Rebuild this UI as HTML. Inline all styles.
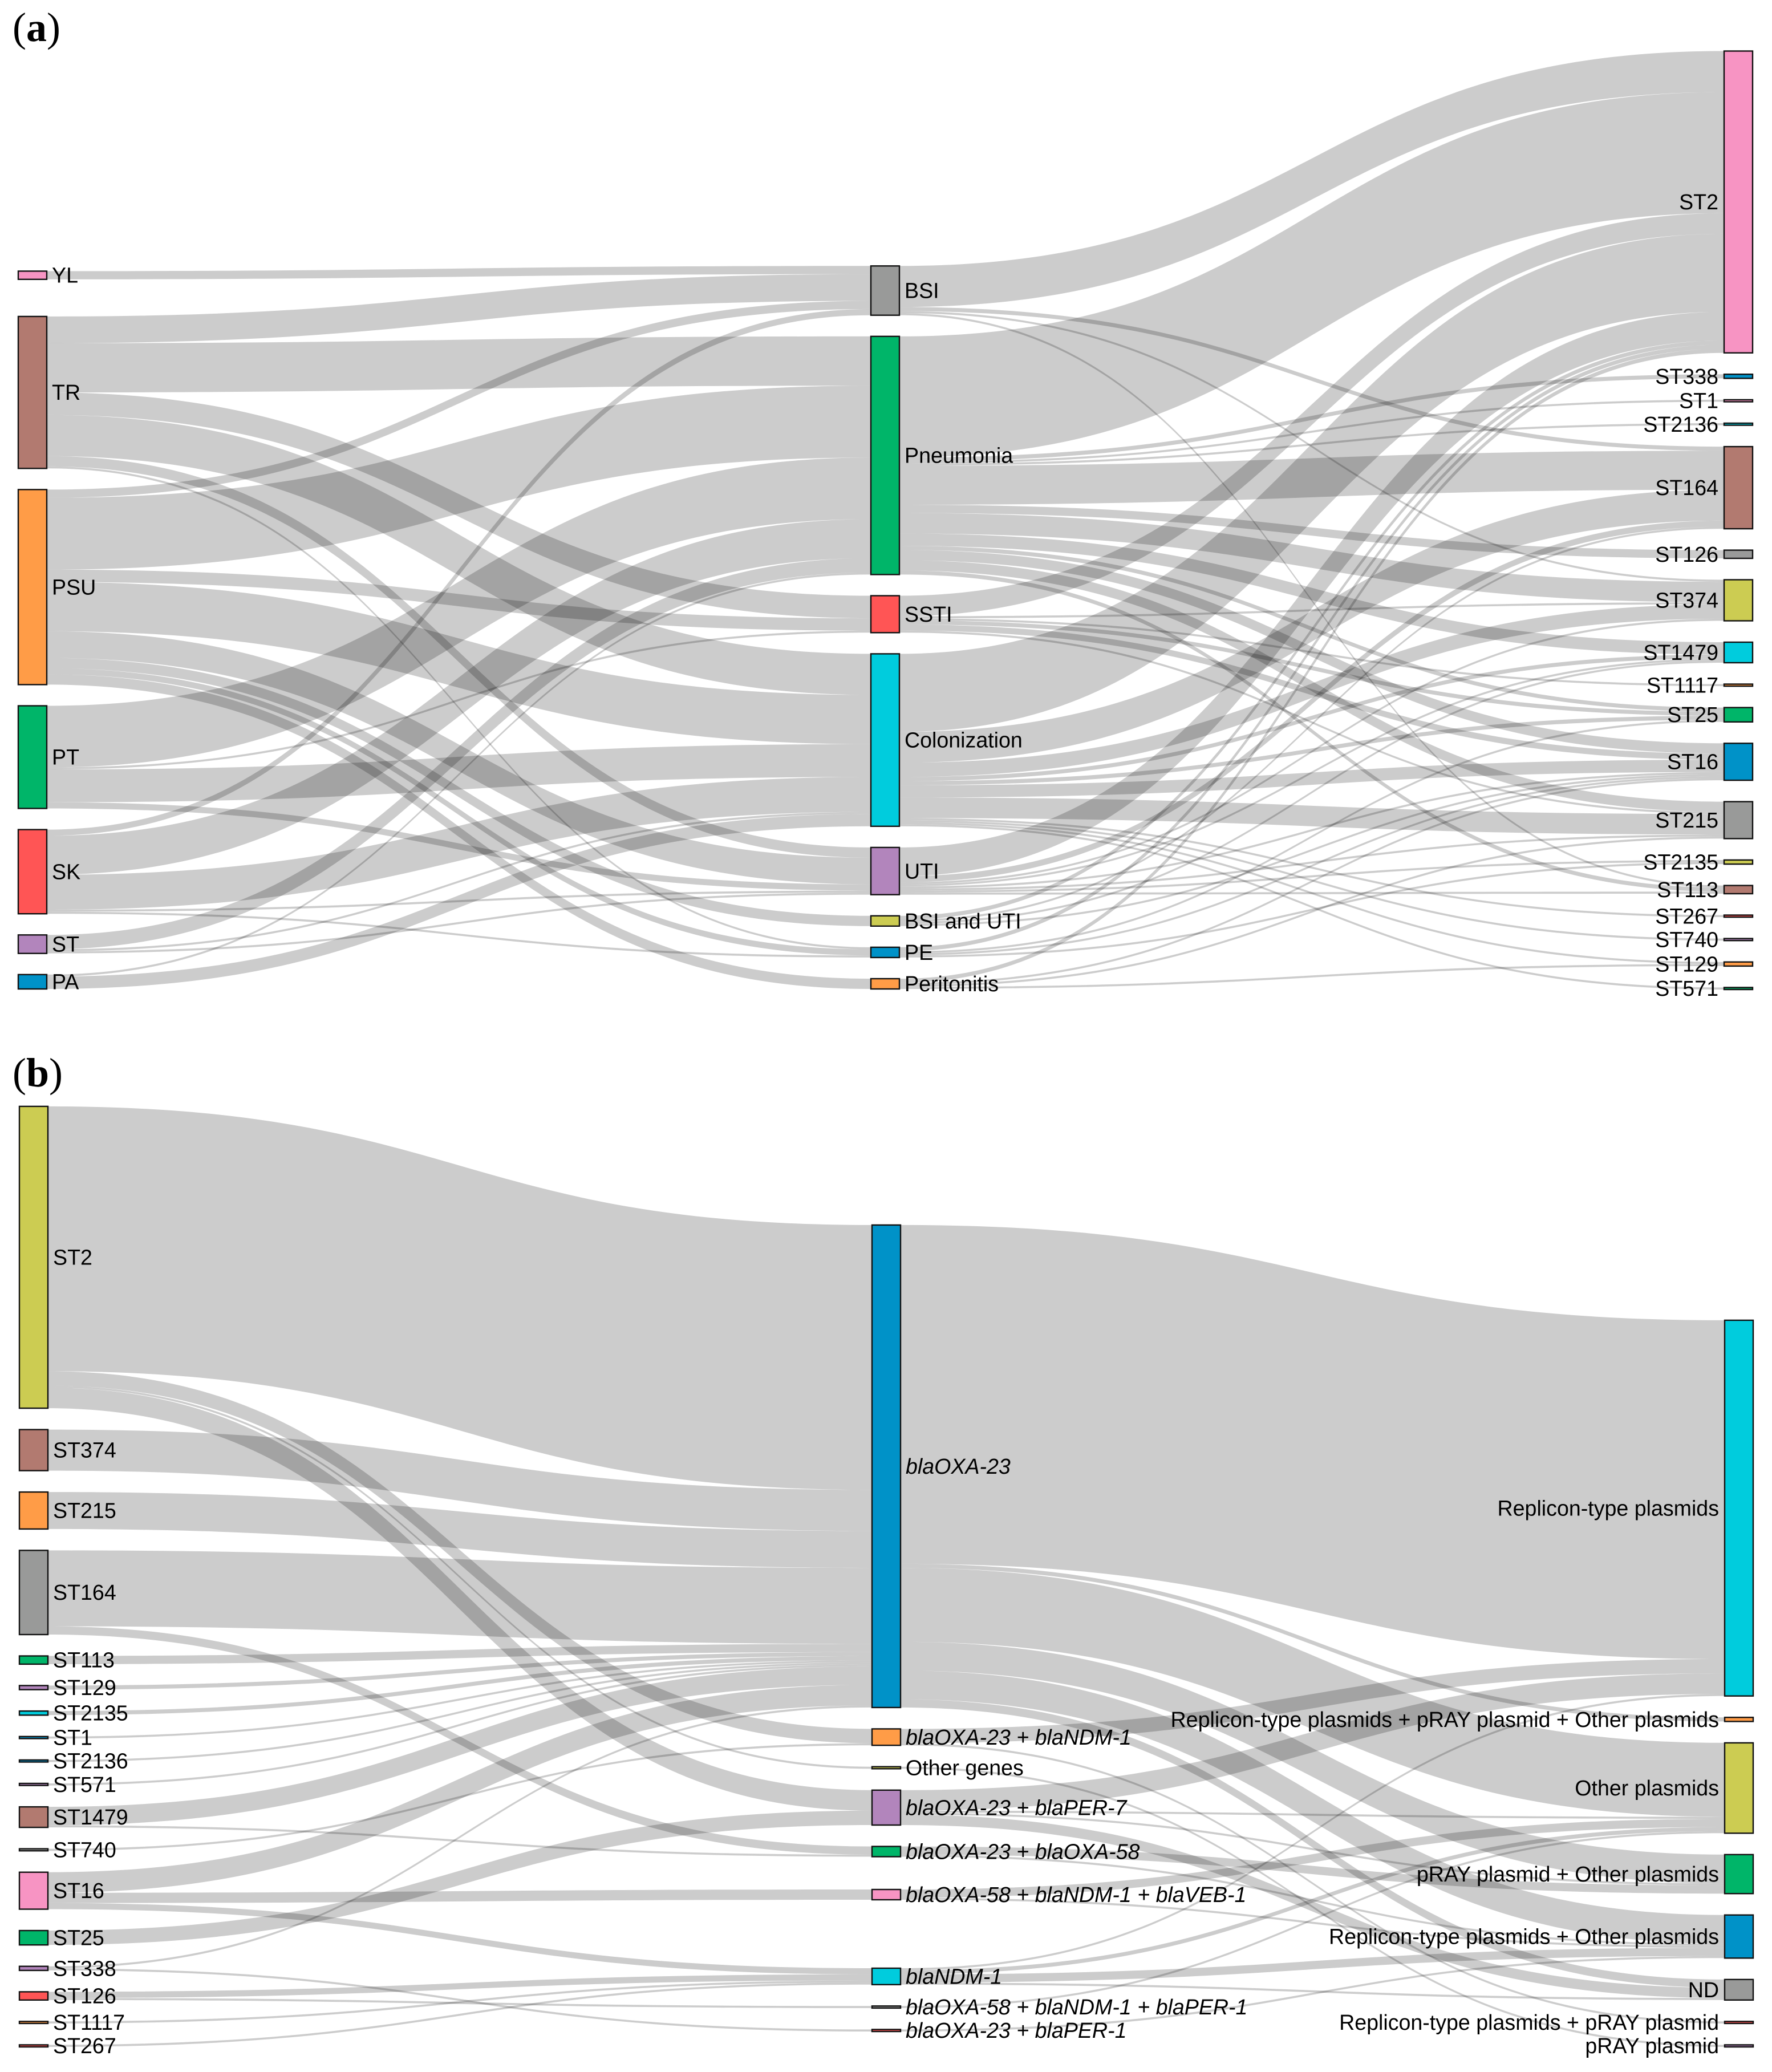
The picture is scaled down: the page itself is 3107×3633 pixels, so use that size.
<!DOCTYPE html>
<html lang="en">
<head>
<meta charset="utf-8">
<title>Sankey diagrams (a) and (b)</title>
<style>
html,body{margin:0;padding:0;background:#fff;}
svg{display:block;}
.lbl{font-family:"Liberation Sans",sans-serif;font-size:37.6px;fill:#000;}
.ttl{font-family:"Liberation Serif",serif;font-size:72px;fill:#000;}
.ttl .b{font-weight:bold;}
</style>
</head>
<body>
<svg id="figure" xmlns="http://www.w3.org/2000/svg" width="3107" height="3633" viewBox="0 0 3107 3633">
  <text class="ttl" x="22" y="72">(<tspan class="b">a</tspan>)</text>
  <text class="ttl" x="22" y="1905">(<tspan class="b">b</tspan>)</text>
</svg>
<script>
// ---------- Panel (a) data: isolate counts ----------
const aSources = ["YL","TR","PSU","PT","SK","ST","PA"];
const aInfections = ["BSI","Pneumonia","SSTI","Colonization","UTI","BSI and UTI","PE","Peritonitis"];
const aClones = ["ST2","ST338","ST1","ST2136","ST164","ST126","ST374","ST1479","ST1117","ST25","ST16","ST215","ST2135","ST113","ST267","ST740","ST129","ST571"];
const aSourceToInfection = [
  ["YL","BSI",4],
  ["TR","BSI",13],["TR","Pneumonia",24],["TR","SSTI",11],["TR","Colonization",20],["TR","UTI",5],["TR","PE",1],
  ["PSU","BSI",4],["PSU","Pneumonia",35],["PSU","SSTI",6],["PSU","Colonization",24],["PSU","UTI",13],["PSU","BSI and UTI",5],["PSU","PE",3],["PSU","Peritonitis",5],
  ["PT","Pneumonia",30],["PT","SSTI",1],["PT","Colonization",16],["PT","UTI",3],
  ["SK","BSI",3],["SK","Pneumonia",19],["SK","Colonization",17],["SK","UTI",1],["SK","PE",1],
  ["ST","Pneumonia",7],["ST","Colonization",1],["ST","UTI",1],
  ["PA","Pneumonia",1],["PA","Colonization",6]
];
const aInfectionToClone = [
  ["BSI","ST2",20],["BSI","ST164",2],["BSI","ST374",1],["BSI","ST113",1],
  ["Pneumonia","ST2",59],["Pneumonia","ST338",2],["Pneumonia","ST1",1],["Pneumonia","ST2136",1],["Pneumonia","ST164",19],["Pneumonia","ST126",4],["Pneumonia","ST374",10],["Pneumonia","ST1479",6],["Pneumonia","ST25",2],["Pneumonia","ST16",5],["Pneumonia","ST215",5],["Pneumonia","ST113",2],
  ["SSTI","ST2",10],["SSTI","ST374",1],["SSTI","ST1117",1],["SSTI","ST25",2],["SSTI","ST16",3],["SSTI","ST215",1],
  ["Colonization","ST2",38],["Colonization","ST164",15],["Colonization","ST374",7],["Colonization","ST1479",2],["Colonization","ST25",2],["Colonization","ST16",6],["Colonization","ST215",10],["Colonization","ST267",1],["Colonization","ST740",1],["Colonization","ST129",1],["Colonization","ST571",1],
  ["UTI","ST2",14],["UTI","ST164",3],["UTI","ST374",1],["UTI","ST1479",1],["UTI","ST16",1],["UTI","ST215",1],["UTI","ST2135",1],["UTI","ST113",1],
  ["BSI and UTI","ST2",2],["BSI and UTI","ST164",1],["BSI and UTI","ST1479",1],["BSI and UTI","ST16",1],
  ["PE","ST2",2],["PE","ST25",1],["PE","ST16",1],["PE","ST2135",1],
  ["Peritonitis","ST2",2],["Peritonitis","ST16",1],["Peritonitis","ST215",1],["Peritonitis","ST129",1]
];

// ---------- Panel (b) data ----------
const bClones = ["ST2","ST374","ST215","ST164","ST113","ST129","ST2135","ST1","ST2136","ST571","ST1479","ST740","ST16","ST25","ST338","ST126","ST1117","ST267"];
const bGenes = ["blaOXA-23","blaOXA-23 + blaNDM-1","Other genes","blaOXA-23 + blaPER-7","blaOXA-23 + blaOXA-58","blaOXA-58 + blaNDM-1 + blaVEB-1","blaNDM-1","blaOXA-58 + blaNDM-1 + blaPER-1","blaOXA-23 + blaPER-1"];
const bPlasmids = ["Replicon-type plasmids","Replicon-type plasmids + pRAY plasmid + Other plasmids","Other plasmids","pRAY plasmid + Other plasmids","Replicon-type plasmids + Other plasmids","ND","Replicon-type plasmids + pRAY plasmid","pRAY plasmid"];
const bCloneToGene = [
  ["ST2","blaOXA-23",129],["ST2","blaOXA-23 + blaNDM-1",7],["ST2","Other genes",1],["ST2","blaOXA-23 + blaPER-7",10],
  ["ST374","blaOXA-23",20],
  ["ST215","blaOXA-23",18],
  ["ST164","blaOXA-23",37],["ST164","blaOXA-23 + blaOXA-58",4],
  ["ST113","blaOXA-23",4],["ST129","blaOXA-23",2],["ST2135","blaOXA-23",2],["ST1","blaOXA-23",1],["ST2136","blaOXA-23",1],["ST571","blaOXA-23",1],
  ["ST1479","blaOXA-23",9],["ST1479","blaOXA-23 + blaOXA-58",1],
  ["ST740","blaOXA-23 + blaNDM-1",1],
  ["ST16","blaOXA-23",10],["ST16","blaOXA-58 + blaNDM-1 + blaVEB-1",5],["ST16","blaNDM-1",3],
  ["ST25","blaOXA-23 + blaPER-7",7],
  ["ST338","blaOXA-23",1],["ST338","blaOXA-23 + blaPER-1",1],
  ["ST126","blaNDM-1",3],["ST126","blaOXA-58 + blaNDM-1 + blaPER-1",1],
  ["ST1117","blaNDM-1",1],
  ["ST267","blaNDM-1",1]
];
const bGeneToPlasmid = [
  ["blaOXA-23","Replicon-type plasmids",165],["blaOXA-23","Replicon-type plasmids + pRAY plasmid + Other plasmids",2],["blaOXA-23","Other plasmids",36],["blaOXA-23","pRAY plasmid + Other plasmids",14],["blaOXA-23","Replicon-type plasmids + Other plasmids",14],["blaOXA-23","ND",4],
  ["blaOXA-23 + blaNDM-1","Replicon-type plasmids",7],["blaOXA-23 + blaNDM-1","Replicon-type plasmids + pRAY plasmid",1],
  ["Other genes","pRAY plasmid",1],
  ["blaOXA-23 + blaPER-7","Replicon-type plasmids",10],["blaOXA-23 + blaPER-7","Other plasmids",1],["blaOXA-23 + blaPER-7","pRAY plasmid + Other plasmids",1],["blaOXA-23 + blaPER-7","ND",5],
  ["blaOXA-23 + blaOXA-58","pRAY plasmid + Other plasmids",4],["blaOXA-23 + blaOXA-58","Replicon-type plasmids + Other plasmids",1],
  ["blaOXA-58 + blaNDM-1 + blaVEB-1","Other plasmids",4],["blaOXA-58 + blaNDM-1 + blaVEB-1","Replicon-type plasmids + Other plasmids",1],
  ["blaNDM-1","Replicon-type plasmids",1],["blaNDM-1","Other plasmids",2],["blaNDM-1","Replicon-type plasmids + Other plasmids",4],["blaNDM-1","ND",1],
  ["blaOXA-58 + blaNDM-1 + blaPER-1","Other plasmids",1],
  ["blaOXA-23 + blaPER-1","Replicon-type plasmids + Other plasmids",1]
];

// ---------- Styling and layout (not data) ----------
const C = {pink:"#f794c3",brown:"#b27a70",orange:"#ff9c47",green:"#00b569",red:"#ff5555",purple:"#b285bc",blue:"#0092c8",gray:"#999a99",olive:"#cccc52",cyan:"#00ccdd"};
const colorsA = {
  left:[C.pink,C.brown,C.orange,C.green,C.red,C.purple,C.blue],
  mid:[C.gray,C.green,C.red,C.cyan,C.purple,C.olive,C.blue,C.orange],
  right:[C.pink,C.blue,C.pink,C.cyan,C.brown,C.gray,C.olive,C.cyan,C.orange,C.green,C.blue,C.gray,C.olive,C.brown,C.red,C.purple,C.orange,C.green]
};
const colorsB = {
  left:[C.olive,C.brown,C.orange,C.gray,C.green,C.purple,C.cyan,C.blue,C.blue,C.purple,C.brown,C.gray,C.pink,C.green,C.purple,C.red,C.orange,C.red],
  mid:[C.blue,C.orange,C.olive,C.purple,C.green,C.pink,C.cyan,C.gray,C.red],
  right:[C.cyan,C.orange,C.olive,C.green,C.blue,C.gray,C.red,C.purple]
};
const PX_PER_ISOLATE = 3.6;
const NODE_W = 50;
const NS = "http://www.w3.org/2000/svg";
const svg = document.getElementById("figure");

function kebab(s){ return s.toLowerCase().replace(/[^a-z0-9]+/g,"-").replace(/^-|-$/g,""); }
function total(links, idx, name){
  return links.filter(l => l[idx] === name).reduce((a,l) => a + l[2], 0);
}
// stack a column upward from its bottom anchor
function layoutColumn(labels, inLinks, outLinks, x, bottom, extraGapAbove, pad){
  const nodes = {};
  let y = bottom;
  for(let i = labels.length - 1; i >= 0; i--){
    const name = labels[i];
    const v = Math.max(total(inLinks,1,name), total(outLinks,0,name));
    const h = v * PX_PER_ISOLATE;
    nodes[name] = {name:name, order:i, x:x, y:y - h, h:h, inOff:0, outOff:0};
    y = y - h - pad - (extraGapAbove[name] || 0);
  }
  return nodes;
}
function drawLinks(group, links, from, to, prefix){
  const sortedOut = links.slice().sort((p,q) =>
    from[p[0]].order - from[q[0]].order || to[p[1]].order - to[q[1]].order);
  const placed = sortedOut.map(l => {
    const s = from[l[0]];
    const w = l[2] * PX_PER_ISOLATE;
    const y0 = s.y + s.outOff;
    s.outOff += w;
    return {l:l, y0:y0, w:w};
  });
  placed.slice().sort((p,q) =>
    to[p.l[1]].order - to[q.l[1]].order || from[p.l[0]].order - from[q.l[0]].order
  ).forEach(p => {
    const t = to[p.l[1]];
    p.y1 = t.y + t.inOff;
    t.inOff += p.w;
  });
  placed.forEach(p => {
    const x0 = from[p.l[0]].x + NODE_W;
    const x1 = to[p.l[1]].x;
    const xm = (x0 + x1) / 2;
    const d = "M" + x0 + "," + p.y0 +
      "C" + xm + "," + p.y0 + " " + xm + "," + p.y1 + " " + x1 + "," + p.y1 +
      "L" + x1 + "," + (p.y1 + p.w) +
      "C" + xm + "," + (p.y1 + p.w) + " " + xm + "," + (p.y0 + p.w) + " " + x0 + "," + (p.y0 + p.w) + "Z";
    const el = document.createElementNS(NS,"path");
    el.setAttribute("d", d);
    el.setAttribute("fill", "rgba(0,0,0,0.2)");
    
    
    group.appendChild(el);
  });
}
function drawNodes(group, nodes, colors, labelRight, prefix){
  Object.values(nodes).sort((a,b) => a.order - b.order).forEach(n => {
    const el = document.createElementNS(NS,"rect");
    el.setAttribute("x", n.x);
    el.setAttribute("y", n.y);
    el.setAttribute("width", NODE_W);
    el.setAttribute("height", n.h);
    el.setAttribute("fill", colors[n.order]);
    el.setAttribute("stroke", "#111");
    el.setAttribute("stroke-width", "2.4");
    
    
    group.appendChild(el);
  });
  Object.values(nodes).sort((a,b) => a.order - b.order).forEach(n => {
    const t = document.createElementNS(NS,"text");
    t.setAttribute("class", "lbl");
    t.setAttribute("x", labelRight ? n.x + NODE_W + 9 : n.x - 10);
    t.setAttribute("y", n.y + n.h / 2 + 13);
    t.setAttribute("text-anchor", labelRight ? "start" : "end");
    if(n.name.indexOf("bla") === 0) t.setAttribute("font-style", "italic");
    t.textContent = n.name;
    
    
    group.appendChild(t);
  });
}
function drawPanel(prefix, labels, flows, colors, xs, bottoms, gaps, pads){
  const nL = layoutColumn(labels[0], [], flows[0], xs[0], bottoms[0], gaps[0], pads[0]);
  const nM = layoutColumn(labels[1], flows[0], flows[1], xs[1], bottoms[1], gaps[1], pads[1]);
  const nR = layoutColumn(labels[2], flows[1], [], xs[2], bottoms[2], gaps[2], pads[2]);
  const g = document.createElementNS(NS,"g");
  
  
  svg.appendChild(g);
  drawLinks(g, flows[0], nL, nM, prefix);
  drawLinks(g, flows[1], nM, nR, prefix);
  drawNodes(g, nL, colors.left, true, prefix + '-left');
  drawNodes(g, nM, colors.mid, true, prefix + '-middle');
  drawNodes(g, nR, colors.right, false, prefix + '-right');
}
drawPanel("panel-a",
  [aSources, aInfections, aClones],
  [aSourceToInfection, aInfectionToClone],
  colorsA,
  [32, 1527, 3023],
  [1734, 1734, 1735],
  [{TR:28}, {}, {}],
  [37.1, 37.1, 37.5]
);
drawPanel("panel-b",
  [bClones, bGenes, bPlasmids],
  [bCloneToGene, bGeneToPlasmid],
  colorsB,
  [34, 1529, 3024],
  [3589, 3562, 3589],
  [{}, {"blaOXA-58 + blaNDM-1 + blaVEB-1":20, "blaNDM-1":82.5}, {}],
  [37.5, 37.5, 37.5]
);
</script>
</body>
</html>
